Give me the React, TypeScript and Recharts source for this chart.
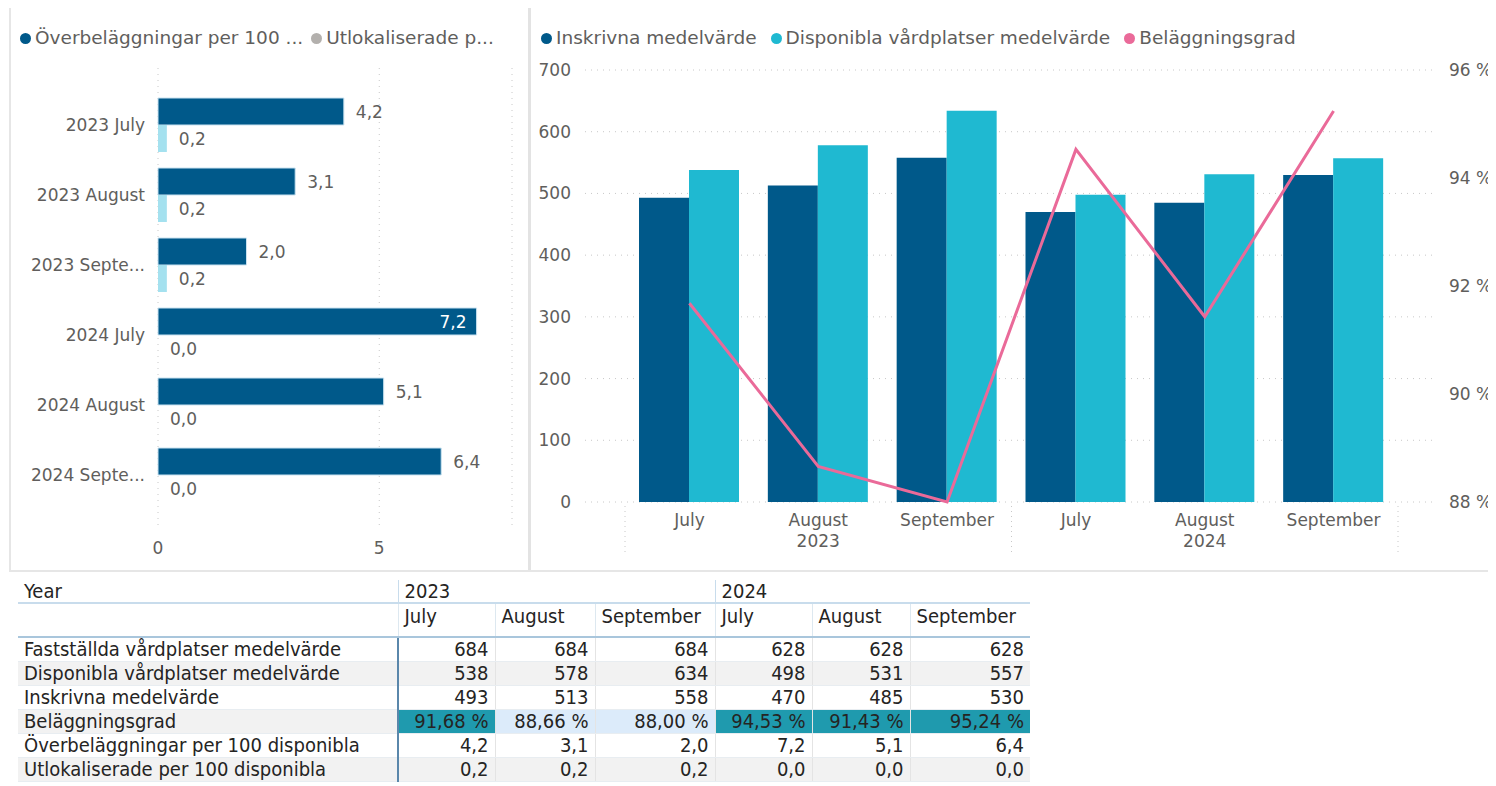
import React from "react";
import {
  BarChart,
  Bar,
  XAxis,
  YAxis,
  CartesianGrid,
  LabelList,
  ComposedChart,
  Line,
} from "recharts";

// categories
const months = ["July", "August", "September", "July", "August", "September"];
const years = ["2023", "2023", "2023", "2024", "2024", "2024"];

// series values
const faststallda = [684, 684, 684, 628, 628, 628];
const disponibla = [538, 578, 634, 498, 531, 557];
const inskrivna = [493, 513, 558, 470, 485, 530];
const belaggningsgrad = [91.68, 88.66, 88.0, 94.53, 91.43, 95.24];
const overbelaggningar = [4.2, 3.1, 2.0, 7.2, 5.1, 6.4];
const utlokaliserade = [0.2, 0.2, 0.2, 0.0, 0.0, 0.0];

// tick labels
const leftTicks = [0, 5];
const countTicks = [0, 100, 200, 300, 400, 500, 600, 700];
const pctTicks = [88, 90, 92, 94, 96];

const DARK = "#00598A";
const CYAN = "#1FB9D1";
const LIGHT = "#A4E1EF";
const PINK = "#EA6A99";
const GREY_DOT = "#B3B0AD";
const TEXT = "#605E5C";
const FONT = "'DejaVu Sans', Verdana, sans-serif";
const COND = "'DejaVu Sans Condensed', 'Liberation Sans Narrow', 'DejaVu Sans', sans-serif";
const FS = 17;

const fmt1 = (v: number) => v.toFixed(1).replace(".", ",");
const fmtPct = (v: number) => v.toFixed(2).replace(".", ",") + " %";
const shorten = (s: string) => (s.length > 13 ? s.slice(0, 10) + "..." : s);

const leftData = months.map((m, i) => ({
  label: `${years[i]} ${m}`,
  over: overbelaggningar[i],
  utlok: utlokaliserade[i],
}));

const rightData = months.map((m, i) => ({
  key: `${years[i]} ${m}`,
  inskrivna: inskrivna[i],
  disponibla: disponibla[i],
  belaggning: belaggningsgrad[i],
}));

// layout of the right chart, used for the year separators under the axis
const R_W = 966;
const R_MARGIN = { top: 62, right: 4, bottom: 6, left: 10 };
const R_YL = 45;
const R_YR = 55;
const R_PAD = { left: 40, right: 39 };
const band =
  (R_W - R_MARGIN.left - R_MARGIN.right - R_YL - R_YR - R_PAD.left - R_PAD.right) /
  months.length;

// labels for both bars of a category: the second bar sits right under the first
const PairLabel = (p: any) => {
  const { x, y, width, height, value, index } = p;
  const inside = value > 7;
  const u = leftData[index]?.utlok ?? 0;
  const uw = (width / value) * u;
  return (
    <g fontSize={FS} fontFamily={FONT}>
      <text
        x={inside ? x + width - 10 : x + width + 12}
        y={y + height / 2}
        dominantBaseline="central"
        textAnchor={inside ? "end" : "start"}
        fill={inside ? "#ffffff" : TEXT}
      >
        {fmt1(value)}
      </text>
      <text x={x + uw + 12} y={y + height * 1.5} dominantBaseline="central" textAnchor="start" fill={TEXT}>
        {fmt1(u)}
      </text>
    </g>
  );
};

const MonthTick = (p: any) => {
  const { x, y } = p;
  const i = p.index ?? p.payload?.index ?? 0;
  const sep = (sx: number) => (
    <line x1={sx} x2={sx} y1={y + 4} y2={y + 50} stroke="#c8c8c8" strokeDasharray="1 4" />
  );
  return (
    <g>
      <text x={x} y={y + 18} textAnchor="middle" dominantBaseline="central" fill={TEXT} fontSize={FS} fontFamily={FONT}>
        {months[i]}
      </text>
      {i % 3 === 1 && (
        <text x={x} y={y + 39} textAnchor="middle" dominantBaseline="central" fill={TEXT} fontSize={FS} fontFamily={FONT}>
          {years[i]}
        </text>
      )}
      {i % 3 === 0 && sep(x - band / 2)}
      {i === months.length - 1 && sep(x + band / 2)}
    </g>
  );
};

const LegendItem = ({ color, text, gap }: { color: string; text: string; gap: number }) => (
  <div style={{ display: "flex", alignItems: "center", marginRight: gap }}>
    <span style={{ width: 11, height: 11, borderRadius: "50%", background: color, marginRight: 4, flex: "none" }} />
    <span style={{ whiteSpace: "nowrap" }}>{text}</span>
  </div>
);

const tableRows = [
  { name: "Fastställda vårdplatser medelvärde", values: faststallda.map(String), bg: "#ffffff" },
  { name: "Disponibla vårdplatser medelvärde", values: disponibla.map(String), bg: "#f2f2f2" },
  { name: "Inskrivna medelvärde", values: inskrivna.map(String), bg: "#ffffff" },
  { name: "Beläggningsgrad", values: belaggningsgrad.map(fmtPct), bg: "#f2f2f2", cond: true },
  { name: "Överbeläggningar per 100 disponibla", values: overbelaggningar.map(fmt1), bg: "#ffffff" },
  { name: "Utlokaliserade per 100 disponibla", values: utlokaliserade.map(fmt1), bg: "#f2f2f2" },
];

const colW = [380, 97, 100, 120, 97, 98, 120];

export default function App() {
  const tickStyle = { fill: TEXT, fontSize: FS, fontFamily: FONT };
  return (
    <div
      style={{
        position: "relative",
        width: 1496,
        height: 786,
        margin: "-8px -8px 0",
        overflow: "hidden",
        background: "#ffffff",
        fontFamily: FONT,
      }}
    >
      {/* header lines and panel borders */}
      <div style={{ position: "absolute", left: 10, top: 5, width: 330, height: 2, background: "#1b4f7a" }} />
      <div style={{ position: "absolute", left: 340, top: 5, width: 665, height: 2, background: "#c6dcec" }} />
      <div style={{ position: "absolute", left: 1005, top: 5, width: 491, height: 2, background: "#1b4f7a" }} />
      <div style={{ position: "absolute", left: 9, top: 8, width: 2, height: 563, background: "#e6e6e6" }} />
      <div style={{ position: "absolute", left: 528, top: 8, width: 3, height: 563, background: "#e3e3e3" }} />
      <div style={{ position: "absolute", left: 9, top: 570, width: 1487, height: 2, background: "#e6e6e6" }} />

      {/* left legend (truncated as in the report) */}
      <div
        style={{
          position: "absolute",
          left: 20,
          top: 27,
          display: "flex",
          fontSize: 18.5,
          color: TEXT,
          lineHeight: "22px",
        }}
      >
        <LegendItem color={DARK} text="Överbeläggningar per 100 ..." gap={8} />
        <LegendItem color={GREY_DOT} text="Utlokaliserade p..." gap={8} />
      </div>

      {/* left chart */}
      <div style={{ position: "absolute", left: 8, top: 8 }}>
        <BarChart
          width={520}
          height={560}
          layout="vertical"
          data={leftData}
          margin={{ top: 60, right: 16, bottom: 8, left: 10 }}
          barGap={0}
        >
          <CartesianGrid horizontal={false} strokeDasharray="1 5" stroke="#c8c8c8" />
          <XAxis
            type="number"
            domain={[0, 8]}
            ticks={leftTicks}
            axisLine={false}
            tickLine={false}
            tickSize={0}
            tickMargin={12}
            height={30}
            tick={tickStyle}
          />
          <YAxis
            type="category"
            dataKey="label"
            width={140}
            axisLine={false}
            tickLine={false}
            tickSize={0}
            tickMargin={13}
            padding={{ top: 22, bottom: 20 }}
            tick={tickStyle}
            tickFormatter={shorten}
          />
          <Bar dataKey="over" fill={DARK} stroke="#c9e2f0" strokeWidth={1} barSize={27} isAnimationActive={false}>
            <LabelList dataKey="over" content={PairLabel} />
          </Bar>
          <Bar dataKey="utlok" fill={LIGHT} barSize={27} isAnimationActive={false} />
        </BarChart>
      </div>

      {/* right legend */}
      <div
        style={{
          position: "absolute",
          left: 541,
          top: 27,
          display: "flex",
          fontSize: 18.5,
          color: TEXT,
          lineHeight: "22px",
        }}
      >
        <LegendItem color={DARK} text="Inskrivna medelvärde" gap={14} />
        <LegendItem color={CYAN} text="Disponibla vårdplatser medelvärde" gap={14} />
        <LegendItem color={PINK} text="Beläggningsgrad" gap={14} />
      </div>

      {/* right chart */}
      <div style={{ position: "absolute", left: 530, top: 8 }}>
        <ComposedChart width={R_W} height={560} data={rightData} margin={R_MARGIN} barGap={0}>
          <CartesianGrid vertical={false} yAxisId="left" strokeDasharray="1 5" stroke="#c8c8c8" />
          <XAxis
            dataKey="key"
            height={60}
            axisLine={false}
            tickLine={false}
            tickSize={0}
            tickMargin={0}
            interval={0}
            padding={R_PAD}
            tick={<MonthTick />}
          />
          <YAxis
            yAxisId="left"
            domain={[0, 700]}
            ticks={countTicks}
            width={R_YL}
            axisLine={false}
            tickLine={false}
            tickSize={0}
            tickMargin={14}
            tick={tickStyle}
          />
          <YAxis
            yAxisId="right"
            orientation="right"
            domain={[88, 96]}
            ticks={pctTicks}
            width={R_YR}
            axisLine={false}
            tickLine={false}
            tickSize={0}
            tickMargin={12}
            tick={tickStyle}
            tickFormatter={(v: number) => `${v} %`}
          />
          <Bar yAxisId="left" dataKey="inskrivna" fill={DARK} barSize={50} isAnimationActive={false} />
          <Bar yAxisId="left" dataKey="disponibla" fill={CYAN} barSize={50} isAnimationActive={false} />
          <Line
            yAxisId="right"
            dataKey="belaggning"
            type="linear"
            stroke={PINK}
            strokeWidth={3}
            dot={false}
            isAnimationActive={false}
          />
        </ComposedChart>
      </div>

      {/* table */}
      <table
        style={{
          position: "absolute",
          left: 18,
          top: 580,
          width: 1012,
          borderCollapse: "collapse",
          tableLayout: "fixed",
          fontFamily: COND,
          fontSize: 20,
          color: "#252423",
        }}
      >
        <colgroup>
          {colW.map((w, i) => (
            <col key={i} style={{ width: w }} />
          ))}
        </colgroup>
        <tbody>
          <tr style={{ height: 23 }}>
            <td style={{ padding: "0 6px", borderBottom: "2px solid #c8dcec", lineHeight: "21px" }}>Year</td>
            <td colSpan={3} style={{ padding: "0 6px", lineHeight: "21px", borderBottom: "2px solid #c8dcec", borderLeft: "1px solid #c8dcec" }}>
              2023
            </td>
            <td colSpan={3} style={{ padding: "0 6px", lineHeight: "21px", borderBottom: "2px solid #c8dcec", borderLeft: "1px solid #c8dcec" }}>
              2024
            </td>
          </tr>
          <tr style={{ height: 34 }}>
            <td style={{ borderBottom: "2px solid #a9c6dc" }} />
            {months.map((m, i) => (
              <td
                key={i}
                style={{
                  verticalAlign: "top",
                  padding: "1px 6px 0",
                  lineHeight: "22px",
                  borderBottom: "2px solid #a9c6dc",
                  borderLeft: "1px solid #dde8f0",
                  whiteSpace: "nowrap",
                }}
              >
                {m}
              </td>
            ))}
          </tr>
          {tableRows.map((r, ri) => (
            <tr key={ri} style={{ height: 24, background: r.bg }}>
              <td style={{ padding: "0 6px", lineHeight: "23px", borderBottom: "1px solid #e8edf1", whiteSpace: "nowrap" }}>
                {r.name}
              </td>
              {r.values.map((v, i) => {
                let bg = r.bg;
                if (r.cond) bg = belaggningsgrad[i] >= 90 ? "#1F9AAE" : "#DCEBFA";
                return (
                  <td
                    key={i}
                    style={{
                      padding: "0 6px",
                      textAlign: "right",
                      lineHeight: "23px",
                      background: bg,
                      borderBottom: "1px solid #e8edf1",
                      borderLeft: i === 0 ? "2px solid #5a87ab" : "1px solid #e4e4e4",
                      whiteSpace: "nowrap",
                    }}
                  >
                    {v}
                  </td>
                );
              })}
            </tr>
          ))}
        </tbody>
      </table>
    </div>
  );
}
